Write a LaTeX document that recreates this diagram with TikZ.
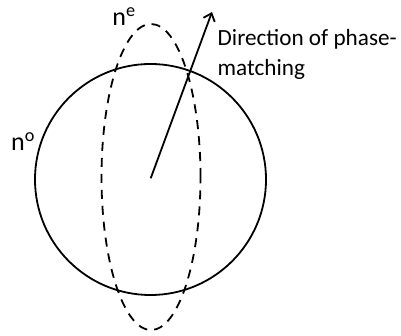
\documentclass[tikz,border=0pt]{standalone}
\usepackage{fontspec}
\setmainfont{Carlito}
\usetikzlibrary{arrows.meta,shapes.geometric}
\begin{document}
\begin{tikzpicture}[x=1pt,y=-1pt,
  curve/.style={line width=1.8pt,black},
  lbl/.style={font=\fontsize{23.2}{29.5}\selectfont,inner sep=0pt},
  sym/.style={font=\fontsize{26}{30}\selectfont,inner sep=0pt}]
\useasboundingbox (0,0) rectangle (401,336);
\node[curve,draw,circle,minimum size=231pt,inner sep=0pt] (ono) at (150.5,179.5) {};
\node[curve,draw,ellipse,dash pattern=on 9pt off 7pt,minimum width=99pt,minimum height=306pt,inner sep=0pt] (ene) at (151,177) {};
\coordinate (ctr) at (150.7,178.3);
\coordinate (tip) at (212,12);
\draw[curve,-{Straight Barb[length=7pt,width=12pt,line width=1.8pt]}] (ctr) -- (tip);
\node[sym,anchor=center] (le) at (124,17) {n\textsuperscript{e}};
\node[sym,anchor=center] (lo) at (23,141.5) {n\textsuperscript{o}};
\node[lbl,anchor=west,align=left] (ld) at (217.5,54.5) {Direction of phase-\\matching};
\end{tikzpicture}
\end{document}
